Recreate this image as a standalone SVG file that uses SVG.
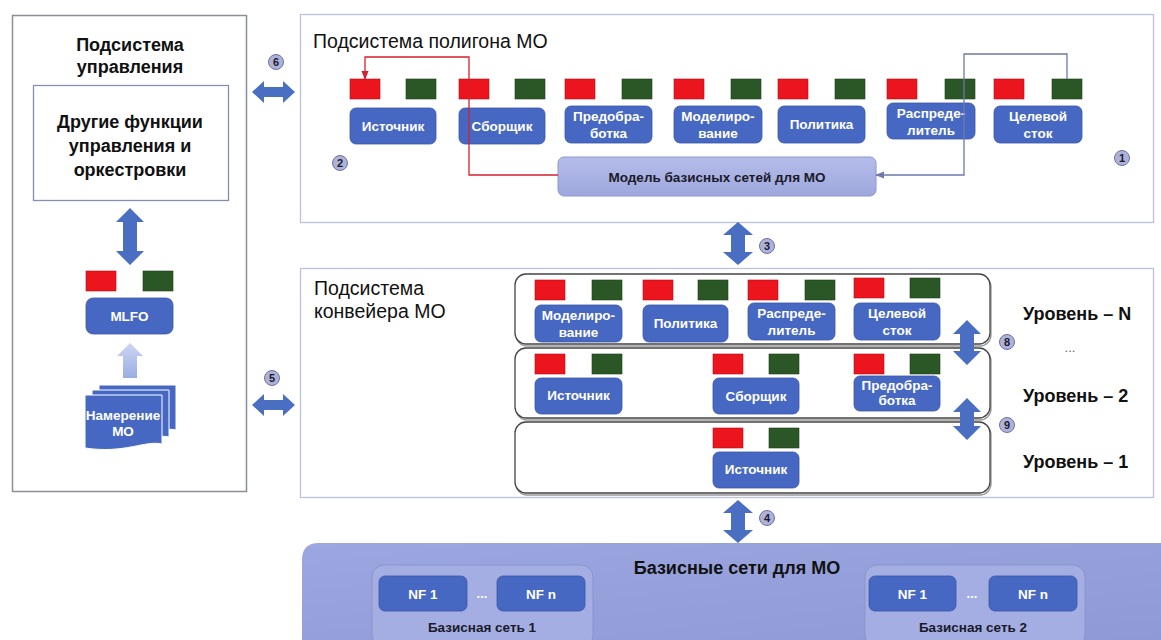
<svg xmlns="http://www.w3.org/2000/svg" width="1161" height="640" viewBox="0 0 1161 640">
<defs>
<style>
.t{font-family:"Liberation Sans",Arial,sans-serif;}
.title{font-family:"Liberation Sans",Arial,sans-serif;font-size:19.5px;fill:#111;}
.bt{font-family:"Liberation Sans",Arial,sans-serif;font-size:18px;font-weight:bold;fill:#111;}
.nb{fill:#4668c2;stroke:#3a57a8;stroke-width:0.8;}
.nt{font-family:"Liberation Sans",Arial,sans-serif;font-size:13.5px;font-weight:bold;fill:#fff;text-anchor:middle;}
.red{fill:#ec151d;stroke:#b01018;stroke-width:0.6;}
.grn{fill:#2b5727;stroke:#1d3d1a;stroke-width:0.6;}
.arr{fill:#4a6fc2;}
.cir{fill:#aeb2d8;stroke:#6c72a6;stroke-width:1;}
.ct{font-family:"Liberation Sans",Arial,sans-serif;font-size:11px;font-weight:bold;fill:#1a1a2a;text-anchor:middle;}
.lvl{fill:#fff;stroke:#444;stroke-width:1.3;}
.lvls{fill:none;stroke:#999;stroke-width:1.3;}
</style>
<linearGradient id="lightArr" x1="0" y1="1" x2="0" y2="0">
<stop offset="0" stop-color="#9aaee2"/>
<stop offset="1" stop-color="#cdd5f2"/>
</linearGradient>
<linearGradient id="modelG" x1="0" y1="0" x2="0" y2="1">
<stop offset="0" stop-color="#b4bcea"/>
<stop offset="1" stop-color="#9ea8dc"/>
</linearGradient>
<linearGradient id="bandG" x1="0" y1="0" x2="1" y2="1">
<stop offset="0" stop-color="#9ca6e0"/>
<stop offset="1" stop-color="#8e99d6"/>
</linearGradient>
<marker id="mRed" viewBox="0 0 10 10" refX="9" refY="5" markerWidth="7" markerHeight="7" orient="auto">
<path d="M0,1 L10,5 L0,9 Z" fill="#d42030"/>
</marker>
<marker id="mBlue" viewBox="0 0 10 10" refX="9" refY="5" markerWidth="7" markerHeight="7" orient="auto">
<path d="M0,1 L10,5 L0,9 Z" fill="#6c78ae"/>
</marker>
</defs>
<rect width="1161" height="640" fill="#fff"/>

<!-- Management subsystem -->
<g id="mgmt">
<rect x="12.5" y="15.5" width="234" height="476" fill="#fff" stroke="#8a8e98" stroke-width="1.5"/>
<text class="bt" x="130" y="51" text-anchor="middle">Подсистема</text>
<text class="bt" x="130" y="73" text-anchor="middle">управления</text>
</g>
<g id="other-functions">
<rect x="33.5" y="85.5" width="195" height="115" fill="#fff" stroke="#8390b0" stroke-width="1.3"/>
<text class="bt" x="130" y="128" text-anchor="middle">Другие функции</text>
<text class="bt" x="130" y="152" text-anchor="middle">управления и</text>
<text class="bt" x="130" y="176" text-anchor="middle">оркестровки</text>
</g>
<g id="mlfo">
<rect class="red" x="86" y="271" width="30" height="20"/>
<rect class="grn" x="143" y="271" width="30" height="20"/>
<rect class="nb" x="86" y="298" width="87" height="36" rx="7"/>
<text class="nt" x="129.5" y="321" font-size="14">MLFO</text>
</g>
<g id="intent">
<path d="M99,385 H176 V430 C160,426 140,440 99,434 Z" fill="#4668c2" stroke="#fff" stroke-width="1"/>
<path d="M92,390 H169 V437 C152,433 132,447 92,441 Z" fill="#4668c2" stroke="#fff" stroke-width="1"/>
<path d="M85,395 H162 V444 C145,440 125,454 85,448 Z" fill="#4668c2" stroke="#fff" stroke-width="1"/>
<text class="nt" x="123" y="420" font-size="12">Намерение</text>
<text class="nt" x="123" y="436" font-size="12.5">МО</text>
</g>

<!-- Polygon subsystem -->
<g id="polygon">
<rect x="300.5" y="14.5" width="853" height="208" fill="#fff" stroke="#bcc3d8" stroke-width="1.3"/>
<text class="title" x="313" y="48" font-size="20">Подсистема полигона МО</text>
</g>
<g id="p-src">
<rect class="red" x="350" y="79" width="30" height="20"/><rect class="grn" x="406" y="79" width="30" height="20"/>
<rect class="nb" x="350" y="108" width="86" height="36" rx="6"/>
<text class="nt" x="393" y="131">Источник</text>
</g>
<g id="p-col">
<rect class="red" x="459" y="79" width="30" height="20"/><rect class="grn" x="515" y="79" width="30" height="20"/>
<rect class="nb" x="459" y="108" width="86" height="36" rx="6"/>
<text class="nt" x="502" y="131">Сборщик</text>
</g>
<g id="p-pre">
<rect class="red" x="565" y="79" width="30" height="20"/><rect class="grn" x="622" y="79" width="30" height="20"/>
<rect class="nb" x="565" y="106" width="87" height="37" rx="6"/>
<text class="nt" x="608.5" y="121">Предобра-</text>
<text class="nt" x="608.5" y="138">ботка</text>
</g>
<g id="p-mod">
<rect class="red" x="674" y="79" width="30" height="20"/><rect class="grn" x="731" y="79" width="30" height="20"/>
<rect class="nb" x="674" y="106" width="88" height="37" rx="6"/>
<text class="nt" x="718" y="121">Моделиро-</text>
<text class="nt" x="718" y="138">вание</text>
</g>
<g id="p-pol">
<rect class="red" x="778" y="79" width="30" height="20"/><rect class="grn" x="835" y="79" width="30" height="20"/>
<rect class="nb" x="778" y="106" width="87" height="37" rx="6"/>
<text class="nt" x="821.5" y="129">Политика</text>
</g>
<g id="p-dist">
<rect class="red" x="887" y="79" width="30" height="20"/><rect class="grn" x="945" y="79" width="30" height="20"/>
<rect class="nb" x="887" y="103" width="88" height="36" rx="6"/>
<text class="nt" x="931" y="118">Распреде-</text>
<text class="nt" x="931" y="135">литель</text>
</g>
<g id="p-sink">
<rect class="red" x="994" y="79" width="30" height="20"/><rect class="grn" x="1052" y="79" width="30" height="20"/>
<rect class="nb" x="994" y="106" width="88" height="37" rx="6"/>
<text class="nt" x="1038" y="121">Целевой</text>
<text class="nt" x="1038" y="138">сток</text>
</g>
<g id="model">
<rect x="558" y="157" width="318" height="39" rx="6" fill="url(#modelG)" stroke="#8e98cc" stroke-width="1"/>
<text class="t" x="717" y="182" text-anchor="middle" font-size="13.5" font-weight="bold" fill="#1a1a2a">Модель базисных сетей для МО</text>
</g>

<!-- Pipeline subsystem -->
<g id="pipeline">
<rect x="300.5" y="268.5" width="853" height="229" fill="#fff" stroke="#bcc3d8" stroke-width="1.3"/>
<text class="title" x="314" y="295">Подсистема</text>
<text class="title" x="314" y="318">конвейера МО</text>
</g>
<g id="level-n">
<rect class="lvls" x="516" y="276" width="475" height="70" rx="11"/>
<rect class="lvl" x="515" y="274" width="475" height="70" rx="11"/>
<text class="bt" x="1023" y="320" font-size="18.5">Уровень – N</text>
<text class="t" x="1070" y="352" text-anchor="middle" font-size="13" fill="#666">...</text>
</g>
<g id="level-2">
<rect class="lvls" x="516" y="350" width="475" height="70" rx="11"/>
<rect class="lvl" x="515" y="348" width="475" height="70" rx="11"/>
<text class="bt" x="1023" y="402" font-size="18.5">Уровень – 2</text>
</g>
<g id="level-1">
<rect class="lvls" x="516" y="424" width="475" height="71" rx="11"/>
<rect class="lvl" x="515" y="422" width="475" height="71" rx="11"/>
<text class="bt" x="1023" y="468" font-size="18.5">Уровень – 1</text>
</g>
<g id="ln-mod">
<rect class="red" x="535" y="280" width="30" height="20"/><rect class="grn" x="592" y="280" width="30" height="20"/>
<rect class="nb" x="535" y="305" width="87" height="37" rx="6"/>
<text class="nt" x="578.5" y="320">Моделиро-</text>
<text class="nt" x="578.5" y="337">вание</text>
</g>
<g id="ln-pol">
<rect class="red" x="643" y="280" width="30" height="20"/><rect class="grn" x="698" y="280" width="30" height="20"/>
<rect class="nb" x="643" y="305" width="85" height="37" rx="6"/>
<text class="nt" x="685.5" y="328">Политика</text>
</g>
<g id="ln-dist">
<rect class="red" x="748" y="280" width="30" height="20"/><rect class="grn" x="805" y="280" width="30" height="20"/>
<rect class="nb" x="748" y="303" width="87" height="37" rx="6"/>
<text class="nt" x="791.5" y="318">Распреде-</text>
<text class="nt" x="791.5" y="335">литель</text>
</g>
<g id="ln-sink">
<rect class="red" x="854" y="278" width="30" height="20"/><rect class="grn" x="910" y="278" width="30" height="20"/>
<rect class="nb" x="854" y="303" width="86" height="37" rx="6"/>
<text class="nt" x="897" y="318">Целевой</text>
<text class="nt" x="897" y="335">сток</text>
</g>
<g id="l2-src">
<rect class="red" x="535" y="354" width="30" height="20"/><rect class="grn" x="592" y="354" width="30" height="20"/>
<rect class="nb" x="535" y="378" width="87" height="36" rx="6"/>
<text class="nt" x="578.5" y="400">Источник</text>
</g>
<g id="l2-col">
<rect class="red" x="713" y="354" width="30" height="20"/><rect class="grn" x="769" y="354" width="30" height="20"/>
<rect class="nb" x="713" y="378" width="86" height="36" rx="6"/>
<text class="nt" x="756" y="401">Сборщик</text>
</g>
<g id="l2-pre">
<rect class="red" x="854" y="354" width="30" height="20"/><rect class="grn" x="910" y="354" width="30" height="20"/>
<rect class="nb" x="854" y="376" width="86" height="35" rx="6"/>
<text class="nt" x="897" y="390">Предобра-</text>
<text class="nt" x="897" y="405" font-size="12">ботка</text>
</g>
<g id="l1-src">
<rect class="red" x="713" y="428" width="30" height="20"/><rect class="grn" x="769" y="428" width="30" height="20"/>
<rect class="nb" x="713" y="452" width="86" height="36" rx="6"/>
<text class="nt" x="756" y="474">Источник</text>
</g>

<!-- Base networks -->
<g id="base">
<path d="M302,640 V560 Q302,543 319,543 H1161 V640 Z" fill="url(#bandG)"/>
<text class="bt" x="737" y="574" text-anchor="middle" font-size="19">Базисные сети для МО</text>
</g>
<g id="net1">
<rect x="372" y="565" width="221" height="82" rx="12" fill="#a4aee2" stroke="#8a94cc" stroke-width="1"/>
<rect class="nb" x="379" y="576" width="88" height="35" rx="6"/>
<text class="nt" x="423" y="599" font-size="14.5">NF 1</text>
<text class="t" x="482" y="598" text-anchor="middle" font-size="13" font-weight="bold" fill="#fff">...</text>
<rect class="nb" x="497" y="576" width="88" height="35" rx="6"/>
<text class="nt" x="541" y="599" font-size="14.5">NF n</text>
<text class="t" x="482" y="632" text-anchor="middle" font-size="13.5" font-weight="bold" fill="#1a1a2a">Базисная сеть 1</text>
</g>
<g id="net2">
<rect x="865" y="565" width="220" height="82" rx="12" fill="#a4aee2" stroke="#8a94cc" stroke-width="1"/>
<rect class="nb" x="869" y="576" width="87" height="35" rx="6"/>
<text class="nt" x="912.5" y="599" font-size="14.5">NF 1</text>
<text class="t" x="972" y="598" text-anchor="middle" font-size="13" font-weight="bold" fill="#fff">...</text>
<rect class="nb" x="989" y="576" width="88" height="35" rx="6"/>
<text class="nt" x="1033" y="599" font-size="14.5">NF n</text>
<text class="t" x="973" y="632" text-anchor="middle" font-size="13.5" font-weight="bold" fill="#1a1a2a">Базисная сеть 2</text>
</g>

<!-- Connectors -->
<g id="connectors">
<polyline points="558,175 469,175 469,57 365,57 365,79" fill="none" stroke="#d42030" stroke-width="1.3" marker-end="url(#mRed)"/>
<polyline points="1067,79 1067,54 964,54 964,175 876,175" fill="none" stroke="#6c78ae" stroke-width="1.3" marker-end="url(#mBlue)"/>
<path class="arr" d="M130,208 L144,222 L137,222 L137,251 L144,251 L130,265 L116,251 L123,251 L123,222 L116,222 Z"/>
<path d="M130,343 L143,356 L137,356 L137,378 L123,378 L123,356 L117,356 Z" fill="url(#lightArr)"/>
<path class="arr" d="M252,92 L264,81 L264,87 L283,87 L283,81 L295,92 L283,103 L283,97 L264,97 L264,103 Z"/>
<path class="arr" d="M252,405 L264,394 L264,400 L283,400 L283,394 L295,405 L283,416 L283,410 L264,410 L264,416 Z"/>
<path class="arr" d="M738,222 L753,235 L745,235 L745,252 L753,252 L738,265 L723,252 L731,252 L731,235 L723,235 Z"/>
<path class="arr" d="M738,500 L753,513 L745,513 L745,530 L753,530 L738,543 L723,530 L731,530 L731,513 L723,513 Z"/>
<path class="arr" d="M967,320 L981,334 L974,334 L974,351 L981,351 L967,365 L953,351 L960,351 L960,334 L953,334 Z"/>
<path class="arr" d="M967,398 L981,412 L974,412 L974,426 L981,426 L967,440 L953,426 L960,426 L960,412 L953,412 Z"/>
</g>

<g id="labels">
<circle class="cir" cx="276" cy="62" r="7.5"/><text class="ct" x="276" y="66">6</text>
<circle class="cir" cx="272" cy="378" r="7.5"/><text class="ct" x="272" y="382">5</text>
<circle class="cir" cx="340" cy="163" r="7.5"/><text class="ct" x="340" y="167">2</text>
<circle class="cir" cx="1122" cy="158" r="7.5"/><text class="ct" x="1122" y="162">1</text>
<circle class="cir" cx="767" cy="246" r="7.5"/><text class="ct" x="767" y="250">3</text>
<circle class="cir" cx="767" cy="518" r="7.5"/><text class="ct" x="767" y="522">4</text>
<circle class="cir" cx="1007" cy="342" r="7.5"/><text class="ct" x="1007" y="346">8</text>
<circle class="cir" cx="1007" cy="425" r="7.5"/><text class="ct" x="1007" y="429">9</text>
</g>
</svg>
